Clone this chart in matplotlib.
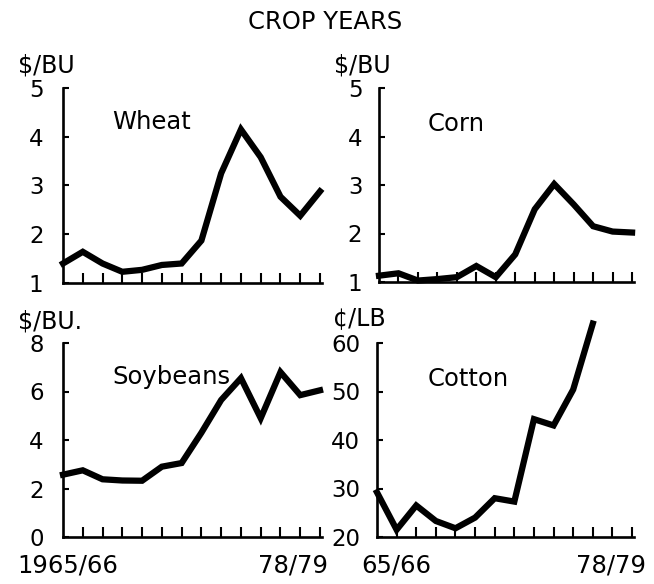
import matplotlib
matplotlib.use('Agg')
import matplotlib.pyplot as plt

plt.rcParams['font.family'] = ['DejaVu Sans']

# crop years 1965/66 .. 78/79 -> index 0..13
years = list(range(14))
wheat = [1.40, 1.64, 1.40, 1.23, 1.27, 1.37, 1.40, 1.87, 3.25, 4.15, 3.58, 2.77, 2.38, 2.88]
corn = [1.13, 1.18, 1.03, 1.06, 1.10, 1.33, 1.10, 1.57, 2.50, 3.02, 2.60, 2.15, 2.04, 2.02]
soybeans = [2.57, 2.75, 2.38, 2.33, 2.32, 2.90, 3.05, 4.30, 5.65, 6.55, 4.90, 6.80, 5.85, 6.05]
cotton = [29.2, 21.5, 26.5, 23.3, 21.8, 24.0, 28.0, 27.3, 44.3, 43.0, 50.4, 64.0]

W, H = 654, 584
fig = plt.figure(figsize=(W / 100, H / 100), dpi=100)


def box(x0, x1, ytop, ybot):
    # pixel box -> figure fraction
    return [x0 / W, 1 - ybot / H, (x1 - x0) / W, (ybot - ytop) / H]


def panel(rect, data, ylim, yticks, name, name_xy, unit, unit_xy, pad):
    ax = fig.add_axes(rect)
    ax.plot(range(len(data)), data, color='black', lw=4.5, solid_joinstyle='miter',
            clip_on=False)
    ax.set_xlim(0, 13.1)
    ax.set_ylim(*ylim)
    for s in ['top', 'right']:
        ax.spines[s].set_visible(False)
    for s in ['left', 'bottom']:
        ax.spines[s].set_linewidth(1.9)
    ax.set_xticks(years[1:])
    ax.set_xticklabels([])
    ax.set_yticks(yticks)
    ax.tick_params(axis='x', direction='in', length=7, width=1.5)
    ax.tick_params(axis='y', direction='in', length=4, width=1.5, labelsize=16.5, pad=pad)
    ax.text(name_xy[0], name_xy[1], name, fontsize=17.5, va='center', ha='left')
    fig.text(unit_xy[0] / W, 1 - unit_xy[1] / H, unit, fontsize=17, va='center', ha='left')
    return ax


panel(box(63, 322, 88, 283), wheat, (1, 5), [1, 2, 3, 4, 5], 'Wheat', (2.5, 4.3),
      '$/BU', (18, 66), 14)
panel(box(379, 634, 88, 282), corn, (1, 5), [1, 2, 3, 4, 5], 'Corn', (2.5, 4.25),
      '$/BU', (334, 66), 12)
ax3 = panel(box(63, 322, 343, 537), soybeans, (0, 8), [0, 2, 4, 6, 8], 'Soybeans', (2.5, 6.6),
            '$/BU.', (18, 322), 14)
ax4 = panel(box(377, 634, 343, 537), cotton, (20, 60), [20, 30, 40, 50, 60], 'Cotton', (2.6, 52.6),
            '¢/LB', (333, 318), 12)

tr3 = ax3.get_xaxis_transform()
ax3.text(0.25, -0.145, '1965/66', transform=tr3, fontsize=17.5, ha='center', va='center')
ax3.text(13.4, -0.145, '78/79', transform=tr3, fontsize=17.5, ha='right', va='center')
tr4 = ax4.get_xaxis_transform()
ax4.text(1.0, -0.145, '65/66', transform=tr4, fontsize=17.5, ha='center', va='center')
ax4.text(13.7, -0.145, '78/79', transform=tr4, fontsize=17.5, ha='right', va='center')

fig.text(325 / W, 1 - 22 / H, 'CROP YEARS', fontsize=17.5, ha='center', va='center')

fig.savefig('out.png', dpi=100)
